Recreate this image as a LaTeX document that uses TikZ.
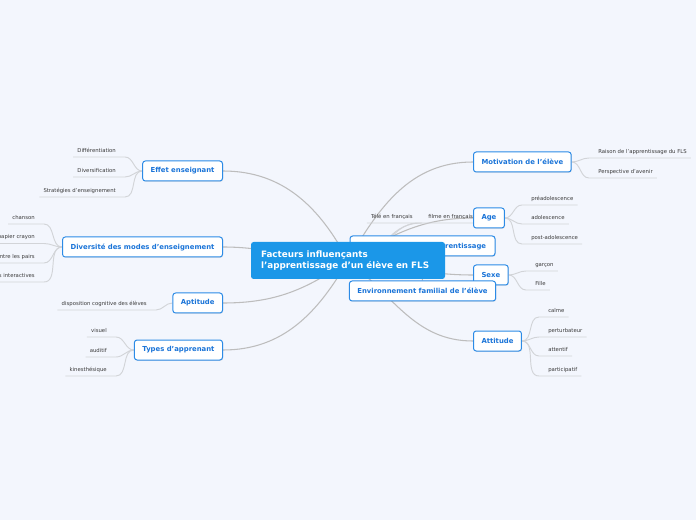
\documentclass[tikz,border=0pt]{standalone}
\usepackage{fontspec}
\setmainfont{DejaVu Sans}
\usetikzlibrary{shadows,backgrounds}
\definecolor{paper}{HTML}{F3F6FD}
\definecolor{hub}{HTML}{1B97E8}
\definecolor{rim}{HTML}{2C8BE6}
\definecolor{label}{HTML}{1A74D8}
\definecolor{wire}{HTML}{BDBDBD}
\definecolor{rule}{HTML}{D2D4D8}
\definecolor{ink}{HTML}{3A3A3A}
\newcommand{\leafsize}{\fontsize{4.0}{4.8}\selectfont}
\newcommand{\topicsize}{\fontsize{5.15}{6.2}\selectfont}
\newcommand{\hubsize}{\fontsize{6.6}{8.25}\selectfont}
\tikzset{
  every picture/.style = {line join=round, line cap=round},
  hubnode/.style = {fill=hub, text=white, font=\hubsize\bfseries, rounded corners=2pt,
                    align=left, text width=130.5pt, inner xsep=7.5pt, minimum height=27.75pt},
  topic/.style   = {draw=rim, fill=white, text=label, font=\topicsize\bfseries,
                    rounded corners=2pt, line width=0.75pt, inner xsep=6pt, minimum height=15pt,
                    drop shadow={shadow xshift=0.5pt, shadow yshift=-0.6pt, opacity=0.18}},
  leaf/.style    = {text=ink, font=\leafsize, inner xsep=3pt, inner ysep=1.3pt,
                    text height=0.72em, text depth=0.22em},
  wire/.style    = {draw=wire, line width=0.8pt},
  twig/.style    = {draw=rule, line width=0.7pt},
}
% a leaf hangs on a rule; the twig runs from the topic into the near end of that rule
\newcommand{\twigleft}[2]{\draw[twig] (#1.west) to[out=180, in=0] ([xshift=3.75pt]#2.south east) -- (#2.south west);}
\newcommand{\twigright}[2]{\draw[twig] (#1.east) to[out=0, in=180] ([xshift=-3.75pt]#2.south west) -- (#2.south east);}

\begin{document}
\begin{tikzpicture}[x=0.75pt, y=0.75pt]
  \useasboundingbox (0,0) rectangle (696,-520);

  % ---------- topics ----------------------------------------------------------
  \node[topic, anchor=east] (eff) at (223,-171) {Effet enseignant};
  \node[topic, anchor=east] (div) at (223,-247) {Diversité des modes d’enseignement};
  \node[topic, anchor=east] (apt) at (223,-303) {Aptitude};
  \node[topic, anchor=east] (typ) at (223,-350) {Types d’apprenant};
  \node[topic, anchor=west] (mot) at (473,-162) {Motivation de l’élève};
  \node[topic, anchor=west] (age) at (473,-218) {Age};
  \node[topic, minimum width=108.75pt] (app) at (422.5,-246) {Médias et outils d’apprentissage};
  \node[topic, anchor=west] (sex) at (473,-275) {Sexe};
  \node[topic] (fam) at (422.5,-291) {Environnement familial de l’élève};
  \node[topic, anchor=west] (att) at (473,-341) {Attitude};

  % the hub sits on top of the apprentissage topic
  \node[hubnode] (hub) at (348,-260.5) {Facteurs influençants\\l’apprentissage d’un élève en FLS};

  % ---------- leaves, left ----------------------------------------------------
  \node[leaf, anchor=south east] (dif) at (120,-157) {Différentiation};
  \node[leaf, anchor=south east] (dvs) at (120,-177) {Diversification};
  \node[leaf, anchor=south east] (str) at (120,-197) {Stratégies d’enseignement};

  \node[leaf, anchor=south east] (cha) at (39,-224) {chanson};
  \node[leaf, anchor=south east] (pap) at (39,-243.5) {Exercices papier crayon};
  \node[leaf, anchor=south east] (pai) at (39,-263) {Échanges entre les pairs};
  \node[leaf, anchor=south east] (int) at (39,-282) {Activités interactives};

  \node[leaf, anchor=south east] (dis) at (151,-310) {disposition cognitive des élèves};

  \node[leaf, anchor=south east] (vis) at (111,-337) {visuel};
  \node[leaf, anchor=south east] (aud) at (111,-357) {auditif};
  \node[leaf, anchor=south east] (kin) at (111,-376) {kinesthésique};

  % ---------- leaves, right ---------------------------------------------------
  \node[leaf, anchor=south west] (rai) at (594,-158) {Raison de l’apprentissage du FLS};
  \node[leaf, anchor=south west] (per) at (594,-178) {Perspective d’avenir};

  \node[leaf, anchor=south west] (pre) at (527,-205) {préadolescence};
  \node[leaf, anchor=south west] (ado) at (527,-224) {adolescence};
  \node[leaf, anchor=south west] (pos) at (527,-244) {post-adolescence};

  \node[leaf, anchor=south west] (gar) at (531,-271) {garçon};
  \node[leaf, anchor=south west] (fil) at (531,-290) {Fille};

  \node[leaf, anchor=south west] (cal) at (544,-317) {calme};
  \node[leaf, anchor=south west] (ptb) at (544,-337) {perturbateur};
  \node[leaf, anchor=south west] (ate) at (544,-356) {attentif};
  \node[leaf, anchor=south west] (par) at (544,-376) {participatif};

  \node[leaf, anchor=south east] (tel) at (417,-223) {Télé en français};
  \node[leaf, anchor=south west] (flm) at (424,-223) {filme en français};

  % ---------- connectors, all behind the boxes --------------------------------
  \begin{scope}[on background layer]
    \fill[paper] (0,0) rectangle (696,-520);

    \draw[wire] (hub.center) to[out=118, in=0]   (eff.east);
    \draw[wire] (hub.center) to[out=180, in=0]   (div.east);
    \draw[wire] (hub.center) to[out=215, in=0]   (apt.east);
    \draw[wire] (hub.center) to[out=240, in=0]   (typ.east);
    \draw[wire] (hub.center) to[out=60,  in=180] (mot.west);
    \draw[wire] (hub.center) to[out=30,  in=180] (age.west);
    \draw[wire] (hub.center) to[out=0,   in=180] (app.west);
    \draw[wire] (hub.center) to[out=-5,  in=180] (sex.west);
    \draw[wire] (hub.center) to[out=-60, in=90]  (fam.north);
    \draw[wire] (hub.center) to[out=-38, in=180] (att.west);

    \twigleft{eff}{dif} \twigleft{eff}{dvs} \twigleft{eff}{str}
    \twigleft{div}{cha} \twigleft{div}{pap} \twigleft{div}{pai} \twigleft{div}{int}
    \twigleft{apt}{dis}
    \twigleft{typ}{vis} \twigleft{typ}{aud} \twigleft{typ}{kin}

    \twigright{mot}{rai} \twigright{mot}{per}
    \twigright{age}{pre} \twigright{age}{ado} \twigright{age}{pos}
    \twigright{sex}{gar} \twigright{sex}{fil}
    \twigright{att}{cal} \twigright{att}{ptb} \twigright{att}{ate} \twigright{att}{par}

    % the two media leaves start from inside the hidden topic
    \draw[twig] ([xshift=-30pt]app.center) to[out=55, in=180] ([xshift=3.75pt]tel.south east) -- (tel.south west);
    \draw[twig] ([xshift=-30pt]app.center) to[out=45, in=180] ([xshift=-3.75pt]flm.south west) -- (flm.south east);
  \end{scope}
\end{tikzpicture}
\end{document}
